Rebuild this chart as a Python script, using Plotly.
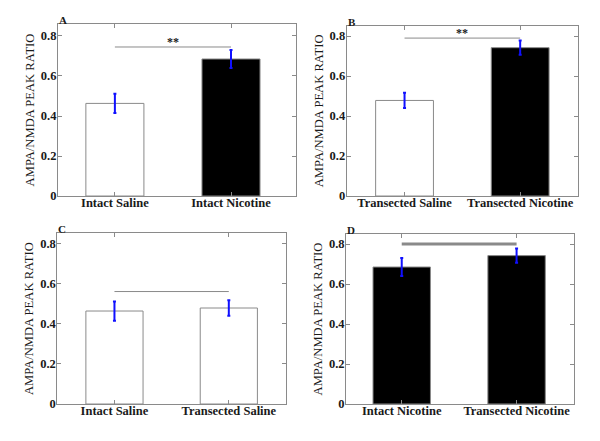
import plotly.graph_objects as go

# ---- data ----
panel_letters = ["A", "B", "C", "D"]
categories_A = ["Intact Saline", "Intact Nicotine"]
values_A = [0.463, 0.685]
errors_A = [0.048, 0.045]
colors_A = ["white", "black"]

categories_B = ["Transected Saline", "Transected Nicotine"]
values_B = [0.478, 0.742]
errors_B = [0.038, 0.036]
colors_B = ["white", "black"]

categories_C = ["Intact Saline", "Transected Saline"]
values_C = [0.463, 0.478]
errors_C = [0.048, 0.038]
colors_C = ["white", "white"]

categories_D = ["Intact Nicotine", "Transected Nicotine"]
values_D = [0.685, 0.742]
errors_D = [0.045, 0.036]
colors_D = ["black", "black"]

sig_level = [0.745, 0.79, 0.56, 0.80]
sig_text = ["**", "**", "", ""]
sig_width = [1, 1, 1, 3]

y_ticks = [0, 0.2, 0.4, 0.6, 0.8]
y_ticktext = ["0", "0.2", "0.4", "0.6", "0.8"]

panels = [
    (categories_A, values_A, errors_A, colors_A),
    (categories_B, values_B, errors_B, colors_B),
    (categories_C, values_C, errors_C, colors_C),
    (categories_D, values_D, errors_D, colors_D),
]

# layout (positions) -- figure is 584x425 so it fits the window with the page's 8px body margin
x_domains = [[0.0856, 0.4932], [0.5800, 0.9760], [0.0844, 0.4760], [0.5788, 0.9692]]
y_domains = [[0.5576, 0.9624], [0.5576, 0.9584], [0.0682, 0.4699], [0.0682, 0.4682]]
x_ranges = [[0.51, 2.56], [0.5, 2.5], [0.5, 2.5], [0.515, 2.5]]
y_ranges = [[0, 0.86], [0, 0.852], [0, 0.85], [0, 0.85]]

GRAY = "#8a8a8a"
SERIF = "Liberation Serif"
TXT = "#1a1a1a"

fig = go.Figure()
layout = dict(
    width=584, height=425,
    margin=dict(l=0, r=0, t=0, b=0),
    paper_bgcolor="white", plot_bgcolor="white",
    showlegend=False,
    shapes=[], annotations=[],
)

for i, (cats, vals, errs, cols) in enumerate(panels):
    n = i + 1
    xa = "x" if n == 1 else f"x{n}"
    ya = "y" if n == 1 else f"y{n}"
    xs = list(range(1, len(cats) + 1))
    fig.add_trace(go.Bar(
        x=xs, y=vals, width=0.5,
        marker=dict(color=cols, line=dict(color=GRAY, width=1)),
        error_y=dict(type="data", array=errs, visible=True, color="#1010ff",
                     thickness=2, width=1.5),
        xaxis=xa, yaxis=ya,
    ))
    xkey = "xaxis" if n == 1 else f"xaxis{n}"
    ykey = "yaxis" if n == 1 else f"yaxis{n}"
    layout[xkey] = dict(
        domain=x_domains[i], range=x_ranges[i], anchor=ya, automargin=False,
        tickvals=xs, ticktext=[f"<b>{c}</b>" for c in cats],
        ticks="inside", ticklen=4, tickcolor=GRAY, ticklabelstandoff=-5,
        showline=True, linecolor=GRAY, linewidth=1, mirror="ticks",
        showgrid=False, zeroline=False,
        tickfont=dict(family=SERIF, size=12.5, color=TXT),
    )
    layout[ykey] = dict(
        domain=y_domains[i], range=y_ranges[i], anchor=xa, automargin=False,
        tickvals=y_ticks, ticktext=[f"<b>{t}</b>" for t in y_ticktext],
        ticks="inside", ticklen=4, tickcolor=GRAY, ticklabelstandoff=-2,
        showline=True, linecolor=GRAY, linewidth=1, mirror="ticks",
        showgrid=False, zeroline=False,
        tickfont=dict(family=SERIF, size=12.5, color=TXT),
        title=dict(text="AMPA/NMDA PEAK RATIO", standoff=3,
                   font=dict(family=SERIF, size=12.6, color=TXT)),
    )
    # significance bar
    layout["shapes"].append(dict(
        type="line", xref=xa, yref=ya, x0=xs[0], x1=xs[-1],
        y0=sig_level[i], y1=sig_level[i],
        line=dict(color=GRAY, width=sig_width[i]),
    ))
    if sig_text[i]:
        layout["annotations"].append(dict(
            xref=xa, yref=ya, x=(xs[0] + xs[-1]) / 2, y=sig_level[i],
            text=f"<b>{sig_text[i]}</b>", showarrow=False, yanchor="bottom", yshift=-4,
            font=dict(family=SERIF, size=12, color=TXT),
        ))
    # panel letter
    layout["annotations"].append(dict(
        xref="paper", yref="paper", x=x_domains[i][0], y=y_domains[i][1],
        text=f"<b>{panel_letters[i]}</b>", showarrow=False,
        xanchor="left", yanchor="bottom", yshift=-4, xshift=-1,
        font=dict(family=SERIF, size=11, color=TXT),
    ))

fig.update_layout(**layout)
fig.write_html("out.html", config={"displayModeBar": False})
